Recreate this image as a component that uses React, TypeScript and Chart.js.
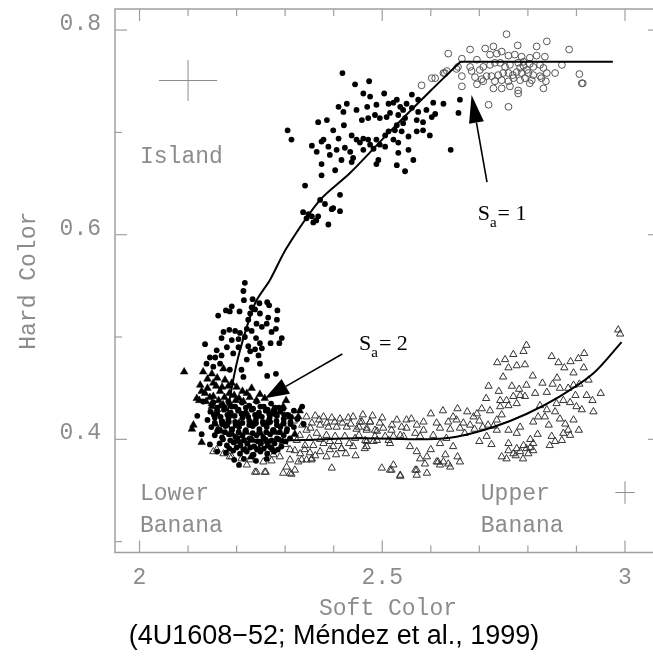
import React, { useEffect, useRef } from "react";
import { Chart, registerables } from "chart.js";

Chart.register(...registerables);

type Pt = [number, number];

// ---- axes ----
const softColorMin = 1.9495;
const softColorMax = 3.0577;
const hardColorMin = 0.2894;
const hardColorMax = 0.8206;

const xTickValues = [2.0, 2.1, 2.2, 2.3, 2.4, 2.5, 2.6, 2.7, 2.8, 2.9, 3.0];
const xMajorValues = [2.0, 2.5, 3.0];
const xMajorLabels = ["2", "2.5", "3"];
const yTickValues = [0.3, 0.4, 0.5, 0.6, 0.7, 0.8];
const yMajorValues = [0.4, 0.6, 0.8];
const yMajorLabels = ["0.4", "0.6", "0.8"];
const xTitle = "Soft Color";
const yTitle = "Hard Color";
const caption = "(4U1608\u221252; M\u00e9ndez et al., 1999)";

// ---- data: filled circles (island state + transition) ----
const islandDots: Pt[] = [
  [2.418,0.758],[2.444,0.747],[2.473,0.750],[2.461,0.738],[2.475,0.735],[2.504,0.738],[2.530,0.732],[2.561,0.737],
  [2.574,0.732],[2.605,0.729],[2.626,0.728],[2.660,0.732],[2.427,0.728],[2.410,0.725],[2.420,0.720],[2.447,0.722],
  [2.469,0.725],[2.488,0.727],[2.513,0.728],[2.523,0.729],[2.537,0.725],[2.550,0.728],[2.543,0.722],[2.561,0.724],
  [2.574,0.720],[2.591,0.722],[2.609,0.718],[2.657,0.719],[2.386,0.712],[2.368,0.710],[2.421,0.707],[2.458,0.712],
  [2.471,0.714],[2.485,0.717],[2.495,0.714],[2.509,0.715],[2.516,0.719],[2.533,0.717],[2.547,0.714],[2.571,0.712],
  [2.584,0.710],[2.602,0.715],[2.305,0.702],[2.313,0.693],[2.399,0.702],[2.379,0.693],[2.375,0.691],[2.410,0.694],
  [2.437,0.697],[2.447,0.693],[2.454,0.690],[2.461,0.694],[2.471,0.693],[2.475,0.688],[2.488,0.693],[2.495,0.688],
  [2.506,0.697],[2.513,0.701],[2.526,0.702],[2.530,0.707],[2.543,0.709],[2.540,0.701],[2.554,0.696],[2.571,0.701],
  [2.584,0.702],[2.598,0.697],[2.355,0.687],[2.365,0.681],[2.389,0.686],[2.392,0.678],[2.406,0.683],[2.423,0.685],
  [2.434,0.681],[2.440,0.675],[2.461,0.683],[2.482,0.684],[2.506,0.686],[2.523,0.693],[2.533,0.690],[2.533,0.680],
  [2.554,0.683],[2.641,0.683],[2.375,0.669],[2.416,0.673],[2.437,0.671],[2.492,0.673],[2.530,0.668],[2.564,0.673],
  [2.403,0.663],[2.375,0.658],[2.488,0.669],[2.547,0.662],[2.341,0.648],[2.413,0.639],[2.372,0.634],[2.382,0.630],
  [2.396,0.625],[2.413,0.623],[2.337,0.622],[2.348,0.620],[2.355,0.618],[2.368,0.618],[2.344,0.616],[2.358,0.612],
  [2.389,0.610],[2.364,0.614],[2.399,0.626],
];

const transitionDots: Pt[] = [
  [2.217,0.553],[2.214,0.545],[2.215,0.536],[2.233,0.537],[2.247,0.533],[2.263,0.534],[2.267,0.531],[2.231,0.529],
  [2.238,0.527],[2.284,0.526],[2.162,0.521],[2.178,0.526],[2.190,0.530],[2.186,0.525],[2.206,0.525],[2.228,0.523],
  [2.248,0.523],[2.265,0.519],[2.283,0.517],[2.224,0.517],[2.241,0.513],[2.262,0.513],[2.281,0.508],[2.173,0.505],
  [2.185,0.507],[2.197,0.506],[2.207,0.504],[2.221,0.508],[2.231,0.506],[2.252,0.510],[2.272,0.505],[2.293,0.499],
  [2.169,0.499],[2.190,0.497],[2.204,0.498],[2.217,0.500],[2.240,0.499],[2.248,0.494],[2.270,0.494],[2.288,0.494],
  [2.135,0.493],[2.159,0.487],[2.180,0.490],[2.204,0.490],[2.224,0.491],[2.238,0.488],[2.252,0.489],[2.145,0.480],
  [2.156,0.480],[2.169,0.482],[2.193,0.484],[2.221,0.478],[2.245,0.482],[2.228,0.486],[2.248,0.474],[2.263,0.462],
  [2.281,0.464],[2.138,0.474],[2.152,0.471],[2.166,0.474],[2.214,0.461],[2.210,0.468],[2.186,0.468],
];

const lowerBananaDots: Pt[] = [
  [2.152,0.436],[2.168,0.433],[2.183,0.437],[2.197,0.432],[2.211,0.436],[2.226,0.433],[2.241,0.437],[2.256,0.432],
  [2.271,0.435],[2.287,0.431],[2.146,0.427],[2.160,0.425],[2.174,0.429],[2.188,0.426],[2.203,0.428],[2.217,0.425],
  [2.231,0.429],[2.246,0.426],[2.260,0.428],[2.275,0.425],[2.290,0.427],[2.305,0.424],[2.318,0.428],[2.140,0.419],
  [2.155,0.421],[2.169,0.418],[2.183,0.420],[2.197,0.417],[2.212,0.421],[2.226,0.418],[2.240,0.420],[2.254,0.417],
  [2.268,0.421],[2.282,0.418],[2.297,0.420],[2.311,0.417],[2.325,0.420],[2.148,0.412],[2.162,0.410],[2.177,0.413],
  [2.191,0.410],[2.205,0.412],[2.219,0.409],[2.233,0.413],[2.247,0.410],[2.262,0.412],[2.276,0.409],[2.290,0.412],
  [2.304,0.410],[2.318,0.412],[2.155,0.404],[2.170,0.402],[2.184,0.405],[2.198,0.402],[2.212,0.404],[2.227,0.401],
  [2.241,0.404],[2.255,0.402],[2.269,0.405],[2.283,0.401],[2.297,0.404],[2.310,0.401],[2.165,0.396],[2.180,0.394],
  [2.194,0.397],[2.208,0.394],[2.222,0.396],[2.236,0.393],[2.250,0.396],[2.264,0.394],[2.278,0.396],[2.292,0.393],
  [2.178,0.387],[2.193,0.389],[2.207,0.386],[2.221,0.388],[2.235,0.385],[2.249,0.388],[2.263,0.386],[2.277,0.388],
  [2.195,0.380],[2.215,0.381],[2.240,0.379],[2.262,0.381],[2.131,0.437],[2.119,0.423],[2.128,0.405],[2.145,0.395],
  [2.335,0.432],[2.338,0.415],[2.205,0.375],[2.160,0.388],
  [2.160,0.431],[2.176,0.430],[2.190,0.432],[2.204,0.429],[2.219,0.431],[2.234,0.430],[2.249,0.432],[2.264,0.429],
  [2.279,0.431],[2.296,0.430],[2.153,0.424],[2.167,0.422],[2.181,0.424],[2.196,0.423],[2.210,0.425],[2.224,0.422],
  [2.238,0.424],[2.252,0.422],[2.267,0.425],[2.283,0.423],[2.298,0.424],[2.312,0.422],[2.155,0.416],[2.170,0.415],
  [2.184,0.417],[2.198,0.414],[2.212,0.416],[2.226,0.414],[2.240,0.416],[2.255,0.415],[2.269,0.417],[2.283,0.414],
  [2.297,0.416],[2.311,0.415],[2.160,0.408],[2.176,0.407],[2.190,0.409],[2.204,0.407],[2.218,0.408],[2.233,0.406],
  [2.247,0.408],[2.261,0.407],[2.275,0.409],[2.289,0.407],[2.303,0.408],[2.172,0.400],[2.187,0.399],[2.201,0.401],
  [2.215,0.399],[2.229,0.400],[2.244,0.398],[2.258,0.400],[2.272,0.399],[2.287,0.400],[2.301,0.398],[2.185,0.391],
  [2.200,0.392],[2.214,0.390],[2.228,0.392],[2.242,0.390],[2.256,0.391],[2.270,0.392],[2.285,0.390],
];

// ---- data: filled triangles ----
const filledTriangles: Pt[] = [
  [2.092,0.466],[2.131,0.466],[2.149,0.464],[2.173,0.469],[2.125,0.453],[2.152,0.455],[2.176,0.458],[2.135,0.445],
  [2.152,0.442],[2.166,0.447],[2.200,0.451],[2.231,0.450],[2.248,0.444],[2.221,0.445],[2.149,0.432],[2.111,0.414],
  [2.128,0.397],[2.156,0.415],[2.296,0.432],[2.327,0.422],[2.310,0.422],[2.214,0.437],[2.241,0.438],[2.276,0.429],
  [2.186,0.435],[2.108,0.410],[2.123,0.438],[2.149,0.435],[2.160,0.460],[2.190,0.455],[2.140,0.450],[2.185,0.445],
  [2.205,0.440],[2.118,0.440],[2.163,0.438],[2.160,0.429],[2.190,0.423],[2.219,0.427],[2.248,0.423],[2.279,0.427],
  [2.175,0.415],[2.205,0.416],[2.234,0.415],[2.262,0.416],[2.295,0.415],[2.190,0.405],[2.220,0.407],[2.249,0.406],
  [2.279,0.407],[2.205,0.398],[2.233,0.399],[2.263,0.398],[2.295,0.398],[2.218,0.390],[2.246,0.391],[2.275,0.390],
  [2.320,0.405],[2.230,0.383],[2.168,0.408],[2.302,0.438],[2.330,0.428],
  [2.140,0.459],[2.158,0.452],[2.170,0.451],[2.183,0.452],[2.128,0.447],[2.145,0.441],[2.175,0.441],[2.195,0.443],
  [2.212,0.447],[2.137,0.437],[2.172,0.434],[2.198,0.438],[2.227,0.441],[2.258,0.440],
];

// ---- data: open circles (upper right) ----
const openCircles: Pt[] = [
  [2.756,0.796],[2.636,0.777],[2.681,0.781],[2.729,0.784],[2.779,0.785],[2.818,0.784],[2.839,0.789],[2.885,0.781],
  [2.664,0.772],[2.695,0.771],[2.712,0.782],[2.722,0.776],[2.736,0.777],[2.746,0.779],[2.760,0.775],[2.773,0.776],
  [2.787,0.774],[2.804,0.773],[2.818,0.775],[2.835,0.774],[2.629,0.758],[2.653,0.762],[2.681,0.764],[2.684,0.760],
  [2.701,0.761],[2.708,0.764],[2.722,0.766],[2.732,0.768],[2.743,0.768],[2.753,0.764],[2.763,0.766],[2.780,0.768],
  [2.791,0.765],[2.804,0.767],[2.825,0.766],[2.832,0.763],[2.856,0.758],[2.870,0.766],[2.906,0.757],[2.913,0.748],
  [2.664,0.755],[2.691,0.754],[2.705,0.752],[2.715,0.755],[2.725,0.755],[2.739,0.756],[2.749,0.758],[2.760,0.758],
  [2.769,0.756],[2.777,0.759],[2.787,0.758],[2.801,0.758],[2.811,0.756],[2.825,0.755],[2.839,0.758],[2.664,0.745],
  [2.695,0.747],[2.708,0.750],[2.732,0.750],[2.746,0.751],[2.760,0.750],[2.770,0.753],[2.784,0.751],[2.794,0.753],
  [2.808,0.751],[2.828,0.753],[2.837,0.750],[2.729,0.743],[2.746,0.743],[2.763,0.745],[2.780,0.741],[2.804,0.748],
  [2.832,0.743],[2.780,0.738],[2.719,0.727],[2.760,0.725],[2.784,0.763],[2.798,0.761],[2.791,0.769],[2.811,0.764],
  [2.581,0.746],[2.602,0.753],[2.609,0.753],[2.626,0.758],[2.633,0.760],[2.656,0.764],[2.911,0.748],
];

// ---- data: open triangles (banana branch) ----
const openTriangles: Pt[] = [
  [2.986,0.507],[2.990,0.503],[2.797,0.492],[2.791,0.486],[2.770,0.483],[2.737,0.475],[2.753,0.478],[2.777,0.472],
  [2.794,0.473],[2.849,0.481],[2.863,0.475],[2.888,0.476],[2.904,0.479],[2.916,0.484],[2.894,0.465],[2.749,0.461],
  [2.719,0.452],[2.714,0.440],[2.767,0.452],[2.782,0.449],[2.797,0.453],[2.815,0.445],[2.839,0.446],[2.851,0.454],
  [2.866,0.450],[2.883,0.450],[2.894,0.453],[2.906,0.454],[2.925,0.458],[2.921,0.443],[2.933,0.438],[2.935,0.427],
  [2.743,0.438],[2.756,0.438],[2.770,0.442],[2.784,0.443],[2.794,0.442],[2.743,0.432],[2.760,0.433],[2.777,0.435],
  [2.746,0.424],[2.736,0.419],[2.729,0.413],[2.718,0.414],[2.707,0.412],[2.825,0.433],[2.839,0.429],[2.859,0.435],
  [2.873,0.438],[2.887,0.436],[2.900,0.432],[2.911,0.429],[2.856,0.427],[2.835,0.422],[2.821,0.422],[2.811,0.417],
  [2.866,0.420],[2.894,0.419],[2.784,0.412],[2.760,0.409],[2.777,0.406],[2.736,0.409],
  [2.746,0.383],[2.760,0.389],[2.777,0.391],[2.791,0.394],[2.797,0.391],[2.811,0.396],[2.756,0.381],[2.770,0.386],
  [2.784,0.388],[2.801,0.386],[2.811,0.389],[2.849,0.403],[2.856,0.398],[2.845,0.394],[2.873,0.406],[2.883,0.409],
  [2.887,0.404],[2.870,0.399],
  [2.715,0.403],[2.688,0.422],[2.681,0.414],[2.667,0.416],[2.653,0.419],[2.646,0.422],[2.636,0.417],[2.619,0.411],
  [2.612,0.416],[2.660,0.411],[2.670,0.406],[2.632,0.401],[2.646,0.393],[2.619,0.396],[2.605,0.404],[2.585,0.409],
  [2.568,0.406],[2.578,0.403],[2.557,0.393],[2.571,0.388],[2.592,0.383],[2.612,0.378],[2.626,0.378],[2.636,0.376],
  [2.619,0.375],[2.640,0.373],[2.660,0.378],[2.588,0.376],[2.568,0.370],[2.571,0.365],[2.592,0.367],[2.537,0.365],
  [2.523,0.375],[2.519,0.370],[2.499,0.372],[2.550,0.411],
  [2.454,0.417],[2.475,0.417],[2.495,0.416],[2.530,0.419],[2.550,0.419],[2.468,0.411],[2.485,0.409],[2.502,0.411],
  [2.519,0.409],[2.537,0.404],[2.485,0.403],[2.506,0.403],[2.523,0.403],[2.465,0.399],[2.482,0.398],[2.468,0.393],
  [2.516,0.396],[2.513,0.399],[2.544,0.403],[2.571,0.414],
  [2.344,0.422],[2.362,0.423],[2.379,0.422],[2.396,0.421],[2.413,0.420],[2.430,0.421],[2.440,0.422],[2.458,0.417],
  [2.475,0.417],[2.355,0.416],[2.372,0.414],[2.389,0.412],[2.406,0.412],[2.427,0.412],[2.447,0.410],[2.468,0.409],
  [2.489,0.408],[2.344,0.409],[2.365,0.406],[2.385,0.404],[2.403,0.403],[2.423,0.403],[2.444,0.401],[2.468,0.398],
  [2.489,0.399],[2.324,0.399],[2.341,0.394],[2.358,0.394],[2.379,0.396],[2.399,0.393],[2.416,0.391],[2.440,0.393],
  [2.464,0.391],[2.310,0.390],[2.331,0.386],[2.351,0.387],[2.372,0.388],[2.392,0.390],[2.289,0.383],[2.310,0.380],
  [2.327,0.378],[2.344,0.380],[2.355,0.381],[2.303,0.373],[2.320,0.370],[2.241,0.368],[2.258,0.368],[2.296,0.367],
  [2.310,0.367],[2.396,0.372],[2.152,0.388],[2.173,0.386],[2.186,0.383],[2.210,0.381],[2.228,0.380],[2.255,0.378],
  [2.272,0.379],[2.221,0.375],[2.276,0.385],[2.159,0.390],[2.190,0.383],[2.238,0.368],[2.260,0.368],[2.313,0.366],
  [2.416,0.391],[2.334,0.380],[2.354,0.380],[2.516,0.370],[2.537,0.364],[2.571,0.370],[2.615,0.378],
  [2.600,0.425],[2.625,0.428],[2.655,0.430],[2.675,0.427],[2.695,0.425],[2.705,0.430],[2.722,0.428],[2.700,0.418],
  [2.690,0.410],[2.640,0.410],[2.585,0.417],[2.560,0.420],[2.630,0.385],[2.655,0.383],[2.600,0.390],[2.578,0.381],
  [2.760,0.396],[2.775,0.384],[2.790,0.381],[2.805,0.392],[2.740,0.447],[2.760,0.470],[2.810,0.462],[2.830,0.455],
  [2.875,0.470],[2.898,0.443],[2.905,0.409],[2.877,0.415],[2.843,0.414],[2.820,0.405],[2.805,0.400],[2.950,0.445],
  [2.915,0.470],[2.860,0.460],[2.725,0.395],[2.700,0.398],
  [2.318,0.418],[2.335,0.414],[2.352,0.411],[2.370,0.419],[2.386,0.416],[2.402,0.417],[2.418,0.416],[2.435,0.415],
  [2.452,0.412],[2.330,0.404],[2.350,0.401],[2.372,0.400],[2.392,0.398],[2.410,0.398],[2.432,0.396],[2.452,0.404],
  [2.300,0.395],[2.320,0.389],[2.340,0.390],[2.362,0.384],[2.385,0.383],[2.405,0.385],[2.425,0.386],[2.445,0.384],
  [2.460,0.424],[2.480,0.423],[2.500,0.421],[2.520,0.414],[2.540,0.412],
];

// ---- data: the track through the diagram ----
const trackFlat: Pt[] = [[2.975,0.769],[2.661,0.769]];
const trackCurve: Pt[] = [
  [2.661,0.769],[2.598,0.740],[2.516,0.701],[2.433,0.660],[2.372,0.634],[2.303,0.587],[2.269,0.556],[2.238,0.533],
  [2.207,0.487],[2.191,0.453],[2.182,0.424],[2.190,0.407],[2.228,0.400],[2.310,0.399],[2.454,0.401],[2.592,0.400],
  [2.653,0.4025],[2.729,0.412],[2.798,0.425],[2.866,0.442],[2.935,0.4645],[2.993,0.495],
];

// ---- annotations (data coordinates) ----
const regionLabels = [
  { text: "Island", x: 2.001, y: 0.670 },
  { text: "Lower", x: 2.001, y: 0.3407 },
  { text: "Banana", x: 2.001, y: 0.3094 },
  { text: "Upper", x: 2.703, y: 0.3407 },
  { text: "Banana", x: 2.703, y: 0.3094 },
];
const stateLabels = [
  { value: "1", x: 2.6966, y: 0.6144 },
  { value: "2", x: 2.4521, y: 0.4873 },
];
const stateArrows = [
  { from: [2.7158, 0.6514], to: [2.684, 0.7366], head: 28, width: 15 },
  { from: [2.4177, 0.4834], to: [2.2585, 0.4401], head: 24, width: 17 },
];
const errorCrosses = [
  { x: 2.1, y: 0.7507, dx: 0.06, dy: 0.02 },
  { x: 3.0, y: 0.348, dx: 0.02, dy: 0.011 },
];

const GREY = "#8c8c8c";
const FRAME = "#a0a0a0";
const MONO = "'Liberation Mono', 'DejaVu Sans Mono', monospace";
const SERIF = "'Liberation Serif', 'DejaVu Serif', serif";
const SANS = "'Liberation Sans', Arial, sans-serif";

const toXY = (arr: Pt[]) => arr.map(([x, y]) => ({ x, y }));

const decorPlugin = {
  id: "decor",
  afterDatasetsDraw(chart: any) {
    const { ctx, chartArea: a, scales } = chart;
    const X = (v: number) => scales.x.getPixelForValue(v);
    const Y = (v: number) => scales.y.getPixelForValue(v);
    const seg = (x1: number, y1: number, x2: number, y2: number) => {
      ctx.beginPath();
      ctx.moveTo(x1, y1);
      ctx.lineTo(x2, y2);
      ctx.stroke();
    };
    ctx.save();

    // frame (left, top, bottom)
    ctx.strokeStyle = FRAME;
    ctx.lineWidth = 1.5;
    ctx.beginPath();
    ctx.moveTo(a.right + 5, a.top);
    ctx.lineTo(a.left, a.top);
    ctx.lineTo(a.left, a.bottom);
    ctx.lineTo(a.right + 5, a.bottom);
    ctx.stroke();

    // ticks (inward)
    ctx.lineWidth = 1.2;
    xTickValues.forEach((v) => {
      const len = xMajorValues.some((m) => Math.abs(m - v) < 1e-6) ? 12 : 7;
      const px = X(v);
      seg(px, a.bottom, px, a.bottom - len);
      seg(px, a.top, px, a.top + len);
    });
    yTickValues.forEach((v) => {
      const len = yMajorValues.some((m) => Math.abs(m - v) < 1e-6) ? 12 : 7;
      const py = Y(v);
      seg(a.left, py, a.left + len, py);
      seg(a.right + 7, py, a.right + 7 - len, py);
    });

    // tick labels
    ctx.fillStyle = GREY;
    ctx.font = `23px ${MONO}`;
    ctx.textAlign = "center";
    ctx.textBaseline = "alphabetic";
    xMajorValues.forEach((v, i) => ctx.fillText(xMajorLabels[i], X(v), a.bottom + 31));
    ctx.textAlign = "right";
    yMajorValues.forEach((v, i) => ctx.fillText(yMajorLabels[i], a.left - 14, Y(v)));

    // axis titles
    ctx.textAlign = "center";
    ctx.fillText(xTitle, (a.left + a.right) / 2 + 4, a.bottom + 62);
    ctx.save();
    ctx.translate(35, (a.top + a.bottom) / 2);
    ctx.rotate(-Math.PI / 2);
    ctx.fillText(yTitle, 0, 0);
    ctx.restore();

    // region labels
    ctx.textAlign = "left";
    regionLabels.forEach((r) => ctx.fillText(r.text, X(r.x), Y(r.y)));

    // error crosses
    ctx.strokeStyle = GREY;
    ctx.lineWidth = 1;
    errorCrosses.forEach((c) => {
      seg(X(c.x - c.dx), Y(c.y), X(c.x + c.dx), Y(c.y));
      seg(X(c.x), Y(c.y - c.dy), X(c.x), Y(c.y + c.dy));
    });

    // arrows
    ctx.strokeStyle = "#000";
    ctx.fillStyle = "#000";
    ctx.lineWidth = 1.6;
    stateArrows.forEach((ar) => {
      const x1 = X(ar.from[0]), y1 = Y(ar.from[1]);
      const x2 = X(ar.to[0]), y2 = Y(ar.to[1]);
      const ang = Math.atan2(y2 - y1, x2 - x1);
      const bx = x2 - ar.head * Math.cos(ang);
      const by = y2 - ar.head * Math.sin(ang);
      seg(x1, y1, bx, by);
      const nx = -Math.sin(ang) * ar.width / 2;
      const ny = Math.cos(ang) * ar.width / 2;
      ctx.beginPath();
      ctx.moveTo(x2, y2);
      ctx.lineTo(bx + nx, by + ny);
      ctx.lineTo(bx - nx, by - ny);
      ctx.closePath();
      ctx.fill();
    });

    // S_a labels
    stateLabels.forEach((s) => {
      let x = X(s.x);
      const y = Y(s.y);
      ctx.font = `22px ${SERIF}`;
      ctx.fillText("S", x, y);
      x += ctx.measureText("S").width;
      ctx.font = `15px ${SERIF}`;
      ctx.fillText("a", x, y + 7);
      x += ctx.measureText("a").width + 1;
      ctx.font = `22px ${SERIF}`;
      ctx.fillText("= " + s.value, x, y);
    });

    // caption
    ctx.font = `27px ${SANS}`;
    ctx.textAlign = "center";
    ctx.fillText(caption, 334, a.bottom + 91);

    ctx.restore();
  },
};

export default function App() {
  const ref = useRef<HTMLCanvasElement | null>(null);

  useEffect(() => {
    if (!ref.current) return;
    const chart = new Chart(ref.current, {
      type: "scatter",
      data: {
        datasets: [
          {
            label: "track",
            data: toXY(trackCurve),
            showLine: true,
            tension: 0.3,
            borderColor: "#000",
            borderWidth: 2,
            pointRadius: 0,
            fill: false,
            order: 0,
          } as any,
          {
            label: "track flat",
            data: toXY(trackFlat),
            showLine: true,
            tension: 0,
            borderColor: "#000",
            borderWidth: 2,
            pointRadius: 0,
            fill: false,
            order: 0,
          } as any,
          {
            label: "island",
            data: toXY([...islandDots, ...transitionDots, ...lowerBananaDots]),
            pointStyle: "circle",
            pointRadius: 2.9,
            backgroundColor: "#000",
            borderColor: "#000",
            borderWidth: 0,
            order: 1,
          },
          {
            label: "filled triangles",
            data: toXY(filledTriangles),
            pointStyle: "triangle",
            pointRadius: 4.4,
            backgroundColor: "#000",
            borderColor: "#000",
            borderWidth: 0.5,
            order: 2,
          },
          {
            label: "open circles",
            data: toXY(openCircles),
            pointStyle: "circle",
            pointRadius: 3.4,
            backgroundColor: "rgba(255,255,255,0)",
            borderColor: "#555",
            borderWidth: 1,
            order: 3,
          },
          {
            label: "open triangles",
            data: toXY(openTriangles),
            pointStyle: "triangle",
            pointRadius: 4.2,
            backgroundColor: "rgba(255,255,255,0)",
            borderColor: "#333",
            borderWidth: 1,
            order: 4,
          },
        ],
      },
      options: {
        responsive: false,
        animation: false,
        devicePixelRatio: 1,
        events: [],
        layout: { padding: { top: 9, left: 0, right: 0, bottom: 0 }, autoPadding: false },
        plugins: { legend: { display: false }, tooltip: { enabled: false } },
        scales: {
          x: {
            type: "linear",
            min: softColorMin,
            max: softColorMax,
            grid: { display: false },
            border: { display: false },
            ticks: { display: false },
            afterFit: (s: any) => {
              s.height = 103.5;
            },
          },
          y: {
            type: "linear",
            min: hardColorMin,
            max: hardColorMax,
            grid: { display: false },
            border: { display: false },
            ticks: { display: false },
            afterFit: (s: any) => {
              s.width = 115;
            },
          },
        },
      } as any,
      plugins: [decorPlugin],
    });
    return () => chart.destroy();
  }, []);

  return (
    <div style={{ position: "fixed", left: 0, top: 0, width: 653, height: 656, background: "#fff" }}>
      <canvas ref={ref} width={653} height={656} style={{ display: "block" }} />
    </div>
  );
}
